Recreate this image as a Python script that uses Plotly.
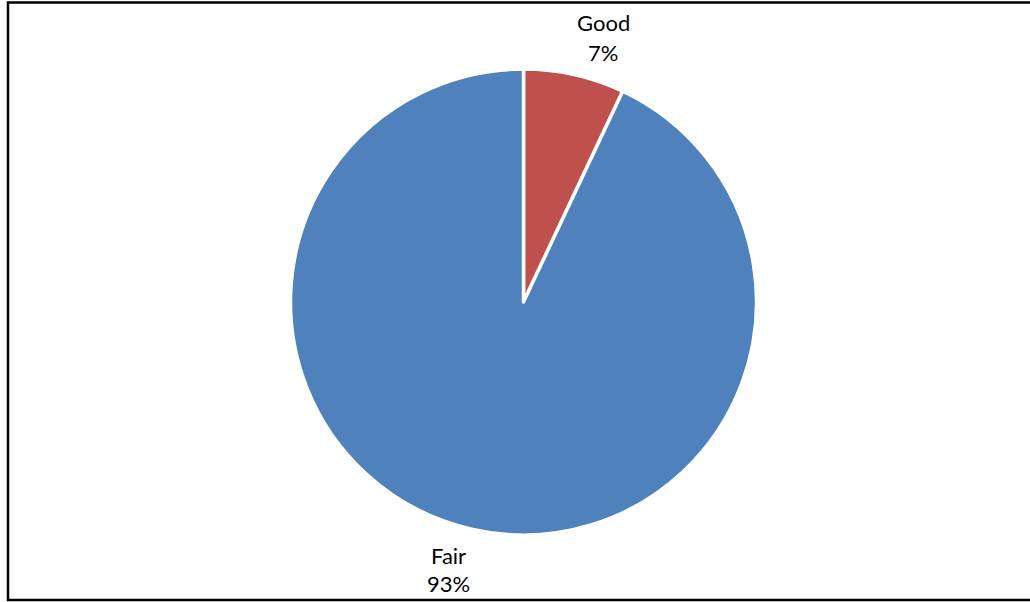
import plotly.graph_objects as go

# Data
categories = ["Good", "Fair"]
values = [7, 93]
colors = ["#C0504D", "#4F81BD"]

W, H = 1030, 602
cx, cy, r = 523.5, 302.0, 233.0  # pie centre and radius in pixels

fig = go.Figure(
    go.Pie(
        labels=categories,
        values=values,
        sort=False,
        direction="clockwise",
        rotation=0,
        marker=dict(colors=colors, line=dict(color="white", width=3.5)),
        textinfo="none",
        hoverinfo="label+percent",
        showlegend=False,
        domain=dict(
            x=[(cx - r) / W, (cx + r) / W],
            y=[1 - (cy + r) / H, 1 - (cy - r) / H],
        ),
    )
)

# Category / percentage labels placed outside the slices
total = sum(values)
label_pos = {"Good": (603, 22, 52), "Fair": (448, 555, 583)}
annotations = []
for name, v in zip(categories, values):
    x, y1, y2 = label_pos[name]
    for txt, yy in ((name, y1), (f"{round(100 * v / total)}%", y2)):
        annotations.append(
            dict(
                x=x / W, y=1 - yy / H, xref="paper", yref="paper",
                text=txt, showarrow=False, xanchor="center", yanchor="middle",
                font=dict(family="Lato", size=22, color="black"),
            )
        )

fig.update_layout(
    width=W,
    height=H,
    margin=dict(l=0, r=0, t=0, b=0),
    paper_bgcolor="white",
    plot_bgcolor="white",
    annotations=annotations,
    shapes=[
        dict(
            type="rect", xref="paper", yref="paper",
            x0=8 / W, x1=1.01, y0=1 - 600 / H, y1=1 - 2.5 / H,
            line=dict(color="black", width=2.5),
        )
    ],
)

fig.write_html("out.html")
